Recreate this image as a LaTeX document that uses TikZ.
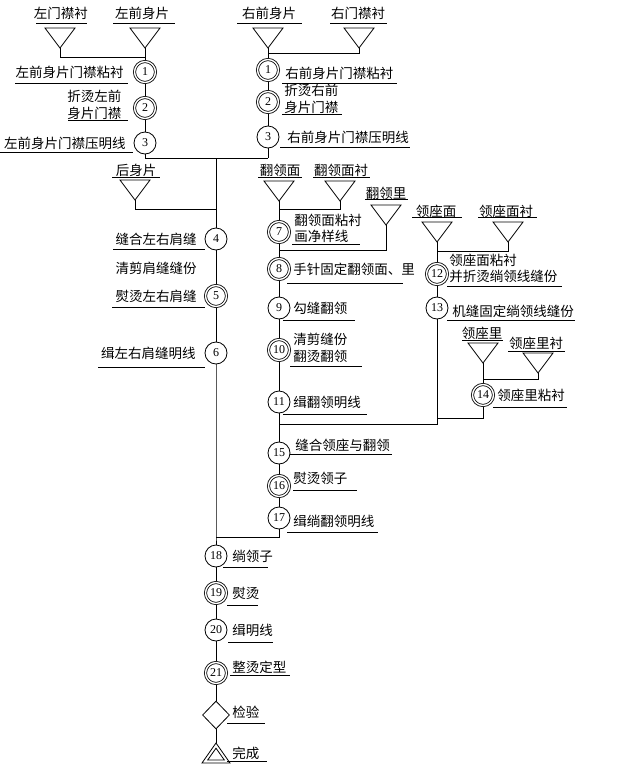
\documentclass[tikz,border=0pt]{standalone}
\usepackage{fontspec}
\setmainfont{Liberation Serif}
\newfontfamily\cjk{Noto Sans CJK SC}
\usetikzlibrary{shapes.geometric,backgrounds}
\newcommand\dtri[3]{\draw (#2-15,#3) -- (#2+15,#3) -- (#2,#3+20) -- cycle; \coordinate (#1) at (#2,#3+20);}
\newcommand\ul[3]{\draw (#1,#3) -- (#2,#3);}
\begin{document}
\begin{tikzpicture}[x=1pt,y=-1pt, line width=0.8pt,
 sc/.style={circle,draw,fill=white,minimum size=22pt,inner sep=0pt,font=\fontsize{12}{12}\selectfont},
 dc/.style={circle,draw,fill=white,double,double distance=1.4pt,minimum size=21pt,inner sep=0pt,font=\fontsize{12}{12}\selectfont},
 lab/.style={inner sep=0pt,font=\cjk\fontsize{13.5}{16.5}\selectfont,align=left},
 chkbox/.style={diamond,draw,fill=white,minimum width=27pt,minimum height=28pt,inner sep=0pt}]
\useasboundingbox (0,0) rectangle (630,769);

% ---------- top left ----------
\node[lab] (lTA) at (61,13) {左门襟衬}; \ul{36}{87}{23}
\node[lab] (lTB) at (142,13) {左前身片}; \ul{113}{175}{23}
\dtri{tA}{60}{28}
\dtri{tB}{145}{28}
\coordinate (jA) at (145,57);
\node[dc] (c1L) at (145,72) {1};
\node[lab,anchor=east] (l1L) at (124,72) {左前身片门襟粘衬}; \ul{15}{128}{83}
\node[dc] (c2L) at (145,108) {2};
\node[lab,anchor=west] (l2L) at (67,105) {折烫左前\\身片门襟}; \ul{68}{128}{120}
\node[sc] (c3L) at (145,143) {3};
\node[lab,anchor=east] (l3L) at (126,143) {左前身片门襟压明线}; \ul{0}{133}{152}
\coordinate (jB) at (145,158);

% ---------- top right ----------
\node[lab] (lTC) at (269,13) {右前身片}; \ul{237}{302}{23}
\node[lab] (lTD) at (358,13) {右门襟衬}; \ul{330}{387}{23}
\dtri{tC}{268}{28}
\dtri{tD}{359}{28}
\coordinate (jD) at (268,53);
\node[dc] (c1R) at (268,70) {1};
\node[lab,anchor=west] (l1R) at (285,73) {右前身片门襟粘衬}; \ul{282}{397}{83}
\node[dc] (c2R) at (268,102) {2};
\node[lab,anchor=west] (l2R) at (284,99) {折烫右前\\身片门襟}; \ul{282}{342}{114}
\node[sc] (c3R) at (268,137) {3};
\node[lab,anchor=west] (l3R) at (287,137) {右前身片门襟压明线}; \ul{280}{410}{147}
\coordinate (jC) at (268,158);

% ---------- main trunk ----------
\coordinate (jE) at (216,158);
\node[lab] (lBack) at (136,170) {后身片}; \ul{112}{160}{177}
\dtri{tBack}{135}{180}
\coordinate (jG) at (216,209);
\node[sc] (c4) at (216,239) {4};
\node[lab,anchor=east] (l4) at (197,239) {缝合左右肩缝}; \ul{113}{205}{249}
\node[lab,anchor=east] (l4b) at (197,268) {清剪肩缝缝份};
\node[dc] (c5) at (216,296) {5};
\node[lab,anchor=east] (l5) at (197,296) {熨烫左右肩缝}; \ul{112}{205}{307}
\node[sc] (c6) at (216,353) {6};
\node[lab,anchor=east] (l6) at (196,353) {缉左右肩缝明线}; \ul{98}{205}{367}
\coordinate (jF) at (216,537);

% ---------- collar (fanling) column ----------
\node[lab] (lF1) at (280,170) {翻领面}; \ul{258}{302}{177}
\node[lab] (lF2) at (341,170) {翻领面衬}; \ul{313}{370}{177}
\dtri{tF1}{279}{181}
\dtri{tF2}{340}{181}
\coordinate (jH) at (279,209);
\node[dc] (c7) at (279,232) {7};
\node[lab,anchor=west] (l7) at (294,228.5) {翻领面粘衬\\画净样线}; \ul{292}{360}{244}
\node[lab] (lF3) at (386,193) {翻领里}; \ul{365}{408}{199}
\dtri{tF3}{386}{205}
\coordinate (jI) at (279,250);
\node[dc] (c8) at (279,269) {8};
\node[lab,anchor=west] (l8) at (293,269) {手针固定翻领面、里}; \ul{287}{403}{283}
\node[sc] (c9) at (279,308) {9};
\node[lab,anchor=west] (l9) at (293,308) {勾缝翻领}; \ul{283}{355}{320}
\node[dc] (c10) at (279,350) {10};
\node[lab,anchor=west] (l10) at (293,348) {清剪缝份\\翻烫翻领}; \ul{290}{362}{366}
\node[sc] (c11) at (279,402) {11};
\node[lab,anchor=west] (l11) at (293,402) {缉翻领明线}; \ul{283}{367}{414}
\coordinate (jJ) at (279,424);
\node[sc] (c15) at (279,453) {15};
\node[lab,anchor=west] (l15) at (295,445) {缝合领座与翻领}; \ul{290}{392}{454}
\node[dc] (c16) at (279,486) {16};
\node[lab,anchor=west] (l16) at (293,478) {熨烫领子}; \ul{293}{357}{490}
\node[sc] (c17) at (279,518) {17};
\node[lab,anchor=west] (l17) at (293,521) {缉绱翻领明线}; \ul{287}{378}{532}

% ---------- collar stand (lingzuo) column ----------
\node[lab] (lG1) at (436,211) {领座面}; \ul{412}{462}{217}
\node[lab] (lG2) at (506,211) {领座面衬}; \ul{478}{537}{217}
\dtri{tG1}{437}{222}
\dtri{tG2}{508}{222}
\coordinate (jK) at (437,251);
\node[dc] (c12) at (437,274) {12};
\node[lab,anchor=west] (l12) at (449,268.5) {领座面粘衬\\并折烫绱领线缝份}; \ul{447}{562}{286}
\node[sc] (c13) at (437,308) {13};
\node[lab,anchor=west] (l13) at (452,311) {机缝固定绱领线缝份}; \ul{447}{575}{320}
\node[lab] (lH1) at (482,333) {领座里}; \ul{462}{503}{340}
\node[lab] (lH2) at (536,343) {领座里衬}; \ul{508}{565}{351}
\dtri{tH1}{483}{343}
\dtri{tH2}{538}{353}
\coordinate (jM) at (483,379);
\node[dc] (c14) at (483,395) {14};
\node[lab,anchor=west] (l14) at (497,395) {领座里粘衬}; \ul{493}{567}{407}
\coordinate (jL) at (437,418);

% ---------- bottom ----------
\node[sc] (c18) at (216,556) {18};
\node[lab,anchor=west] (l18) at (232,556) {绱领子}; \ul{223}{268}{567}
\node[dc] (c19) at (216,593) {19};
\node[lab,anchor=west] (l19) at (232,593) {熨烫}; \ul{227}{258}{605}
\node[sc] (c20) at (216,630) {20};
\node[lab,anchor=west] (l20) at (232,630) {缉明线}; \ul{228}{273}{642}
\node[dc] (c21) at (216,673) {21};
\node[lab,anchor=west] (l21) at (232,667) {整烫定型}; \ul{230}{290}{675}
\node[chkbox] (chk) at (216,715) {};
\node[lab,anchor=west] (lchk) at (232,712) {检验}; \ul{227}{265}{723}
\draw (202,763) -- (230,763) -- (216,743) -- cycle;
\draw (207.7,760) -- (224.3,760) -- (216,748.2) -- cycle;
\coordinate (tEnd) at (216,743);
\node[lab,anchor=west] (lend) at (232,753) {完成}; \ul{227}{267}{761}

% ---------- connectors ----------
\begin{scope}[on background layer]
\draw (tA) |- (jA);
\draw (tB) -- (c1L) -- (c2L) -- (c3L) -- (jB) -- (jC);
\draw (tC) -- (c1R) -- (c2R) -- (c3R) -- (jC);
\draw (tD) |- (jD);
\draw (jE) -- (c4) -- (c5) -- (c6) -- (jF) -- (c18) -- (c19) -- (c20) -- (c21) -- (chk) -- (tEnd);
\draw (tBack) |- (jG);
\draw (tF1) -- (c7) -- (c8) -- (c9) -- (c10) -- (c11) -- (c15) -- (c16) -- (c17);
\draw (c17) |- (jF);
\draw (tF2) |- (jH);
\draw (tF3) |- (jI);
\draw (tG1) -- (c12) -- (c13);
\draw (c13) |- (jJ);
\draw (tG2) |- (jK);
\draw (tH1) -- (c14);
\draw (c14) |- (jL);
\draw (tH2) |- (jM);
\end{scope}
\end{tikzpicture}
\end{document}
